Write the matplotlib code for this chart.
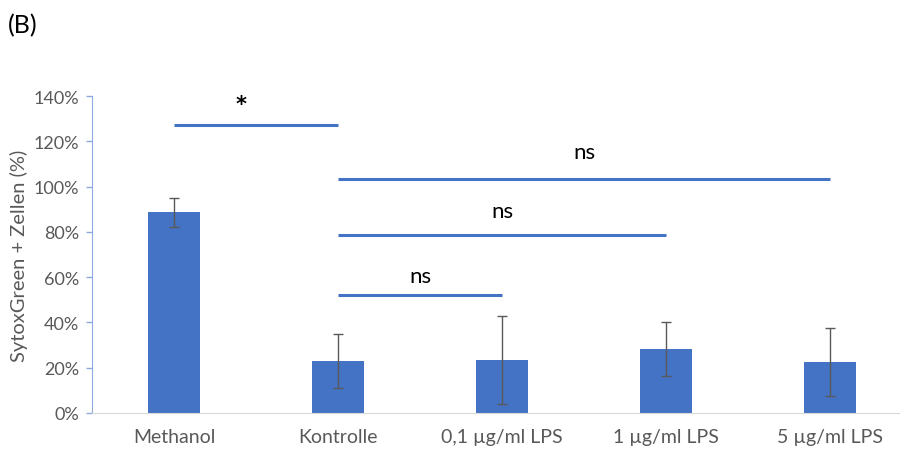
import matplotlib.pyplot as plt
from matplotlib.ticker import FuncFormatter

plt.rcParams['font.family'] = ['Lato', 'DejaVu Sans']

categories = ['Methanol', 'Kontrolle', '0,1 µg/ml LPS', '1 µg/ml LPS', '5 µg/ml LPS']
means = [88.7, 22.8, 23.3, 28.2, 22.6]
errors = [6.4, 11.9, 19.5, 12.0, 15.1]

# significance brackets: (start index, end index, height in %, label)
brackets = [
    (0, 1, 127.2, '*'),
    (1, 4, 103.4, 'ns'),
    (1, 3, 78.6, 'ns'),
    (1, 2, 52.1, 'ns'),
]
label_gap = [6.8, 11.8, 10.6, 8.6]

blue = '#4472C4'
grey = '#595959'

fig = plt.figure(figsize=(9, 4.56), dpi=100)
ax = fig.add_axes([92 / 900, 42 / 456, 820 / 900, 317 / 456])

x = range(len(categories))
ax.bar(x, means, width=0.32, color=blue, zorder=2)
ax.errorbar(x, means, yerr=errors, fmt='none', ecolor=grey, elinewidth=1,
            capsize=3.5, capthick=1, zorder=3)

for (i0, i1, h, label), gap in zip(brackets, label_gap):
    ax.plot([i0, i1], [h, h], color=blue, lw=2.2, solid_capstyle='butt')
    if label == '*':
        ax.text(i0 + 0.41, h + gap, label, ha='center', va='baseline',
                fontsize=15, fontweight='bold', color='black',
                family='DejaVu Sans')
    else:
        ax.text((i0 + i1) / 2, h + gap, label,
                ha='center', va='center', fontsize=16, color='black')

ax.set_xlim(-0.5, 4.5)
ax.set_ylim(0, 140)
ax.set_yticks(range(0, 141, 20))
ax.yaxis.set_major_formatter(FuncFormatter(lambda v, p: f'{v:.0f}%'))
ax.set_xticks(list(x))
ax.set_xticklabels(categories)

for s in ['top', 'right']:
    ax.spines[s].set_visible(False)
ax.spines['left'].set_color('#8FAADC')
ax.spines['bottom'].set_color('#D9D9D9')
ax.tick_params(axis='y', colors='#8FAADC', labelcolor=grey, labelsize=13,
               length=4, width=1, pad=5)
ax.tick_params(axis='x', length=0, labelcolor=grey, labelsize=14, pad=11)

ax.set_ylabel('SytoxGreen + Zellen (%)', fontsize=14.5, color=grey, labelpad=4)

fig.text(8 / 900, 1 - 26 / 456, '(B)', fontsize=18, va='center', ha='left')

fig.savefig('out.png', dpi=100)
